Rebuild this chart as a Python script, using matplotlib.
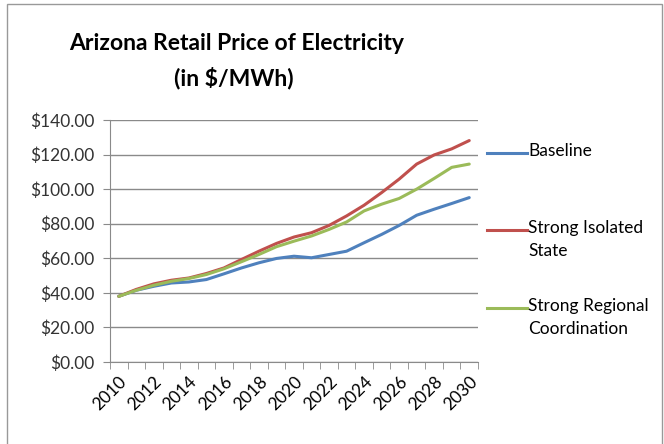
import numpy as np
import matplotlib.pyplot as plt

plt.rcParams['font.family'] = ['Lato', 'DejaVu Sans']

years = list(range(2010, 2031))
baseline = [38, 41.5, 43.8, 45.7, 46.3, 47.7, 51, 54.4, 57.4, 59.9, 61.2, 60.3,
            62.2, 64.1, 69, 73.8, 79, 84.9, 88.4, 91.7, 95.1]
isolated = [38, 42, 45.2, 47.3, 48.6, 51.2, 54.4, 59.3, 64.1, 68.6, 72.3, 74.8,
            79, 84.5, 90.7, 98, 105.8, 114.5, 119.8, 123.3, 128.1]
regional = [38, 41.5, 44.4, 46.7, 48.3, 50.6, 53.9, 58, 62.2, 66.7, 69.9, 72.9,
            76.7, 81, 87.4, 91.3, 94.6, 100, 106.2, 112.6, 114.5]
series_names = ['Baseline', 'Strong Isolated\nState', 'Strong Regional\nCoordination']
colors = ['#4F81BD', '#C0504D', '#9BBB59']
yticks = [0, 20, 40, 60, 80, 100, 120, 140]

fig = plt.figure(figsize=(6.64, 4.44), dpi=100)
W, H = 664, 444
ax = fig.add_axes([110 / W, 1 - 362 / H, (478 - 110) / W, (362 - 120) / H])

x = np.arange(len(years))
lines = []
for vals, c in zip([baseline, isolated, regional], colors):
    ln, = ax.plot(x, vals, color=c, lw=2.2, solid_capstyle='round')
    lines.append(ln)

ax.set_xlim(-0.5, len(years) - 0.5)
ax.set_ylim(0, 140)
ax.set_yticks(yticks)
ax.set_yticklabels(['${:.2f}'.format(v) for v in yticks], fontsize=12.5, color='#333333')
ax.yaxis.grid(True, color='#8a8a8a', lw=1)
ax.set_axisbelow(True)

ax.set_xticks(x[::2])
ax.set_xticklabels([str(y) for y in years[::2]], rotation=45, ha='right',
                   rotation_mode='anchor', fontsize=12.5)
ax.set_xticks(np.arange(-0.5, len(years)), minor=True)
ax.tick_params(axis='x', which='major', length=0, pad=8)
ax.tick_params(axis='x', which='minor', length=5, color='#8a8a8a')
ax.tick_params(axis='y', length=5, color='#8a8a8a', pad=6)

for s in ['top', 'right']:
    ax.spines[s].set_visible(False)
for s in ['left', 'bottom']:
    ax.spines[s].set_color('#8a8a8a')

fig.text(237 / W, 1 - 44 / H, 'Arizona Retail Price of Electricity', ha='center',
         va='center', fontsize=16.5, fontweight='bold')
fig.text(234 / W, 1 - 78 / H, '(in $/MWh)', ha='center', va='center',
         fontsize=16.5, fontweight='bold')

# legend drawn to the right
leg_y = [153, 230, 308]
for ln, name, yy in zip(lines, series_names, leg_y):
    fig.add_artist(plt.Line2D([487 / W, 527 / W], [1 - yy / H, 1 - yy / H],
                              color=ln.get_color(), lw=2.2))
    fig.text(528 / W, 1 - (yy - 10) / H, name, ha='left', va='top', fontsize=12.5,
             linespacing=1.55)

# outer frame
fig.add_artist(plt.Rectangle((7 / W, -0.1), (662 - 7) / W, 1 - 4 / H + 0.1,
                             fill=False, edgecolor='#999999', lw=1))

fig.savefig('out.png', dpi=100)
